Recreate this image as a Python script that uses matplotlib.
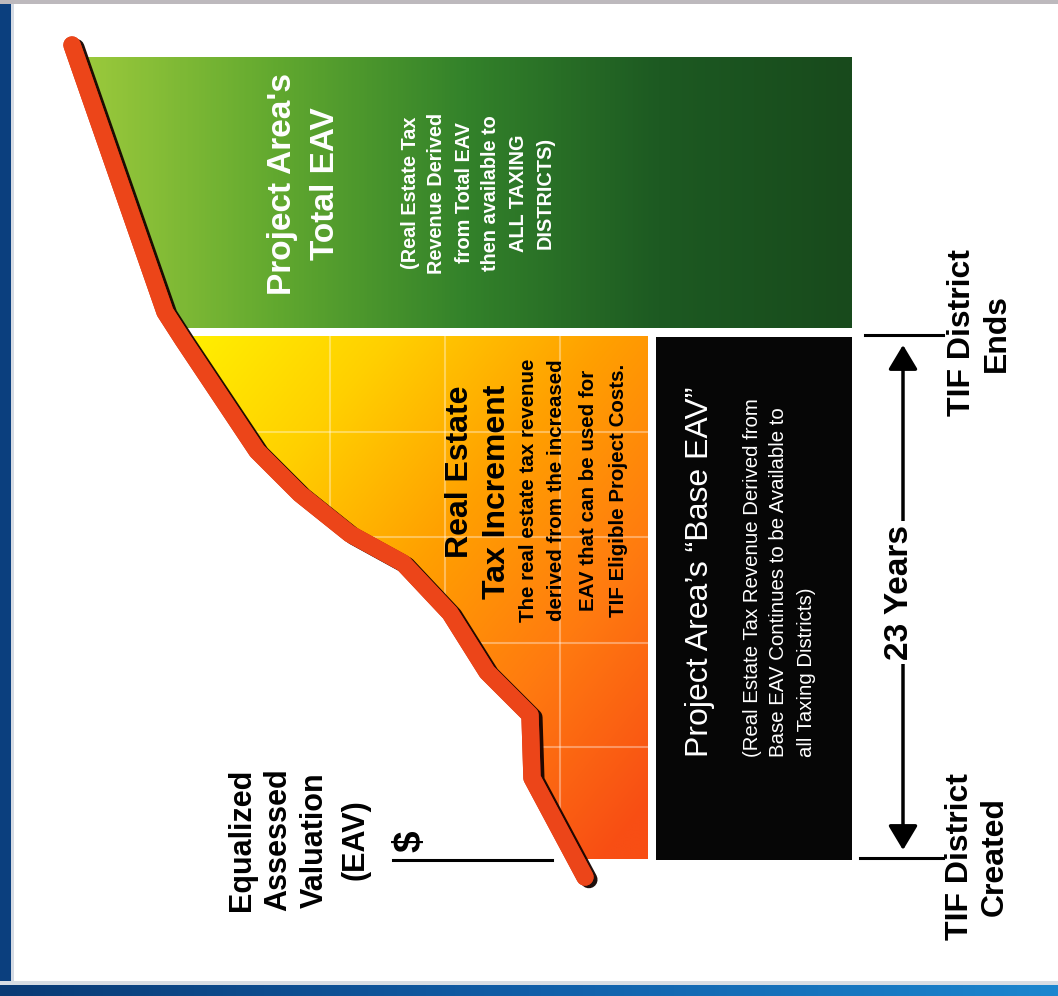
import numpy as np
import matplotlib
matplotlib.use("Agg")
import matplotlib.pyplot as plt
from matplotlib.colors import LinearSegmentedColormap
from matplotlib.patches import Polygon, Rectangle, FancyArrowPatch
import matplotlib.patheffects as pe
from matplotlib import font_manager

# ---------------- data ----------------
# Equalized assessed valuation of the project area over time
years = [-0.84, 3.52, 6.29, 8.18, 10.77, 12.97, 14.25, 16.01, 17.90, 20.54, 22.78, 24.01, 35.75]
eav = [133.5, 160.0, 161.0, 182.5, 201.0, 224.5, 251.0, 276.0, 297.5, 317.5, 334.5, 343.5, 390.0]
base_eav = 100.0          # frozen "Base EAV"
tif_years = 23            # life of the TIF district

eav_label = ["Equalized", "Assessed", "Valuation", "(EAV)"]
total_title = ["Project Area's", "Total EAV"]
total_sub = ["(Real Estate Tax", "Revenue Derived", "from Total EAV", "then available to",
             "ALL TAXING", "DISTRICTS)"]
inc_title = ["Real Estate", "Tax Increment"]
inc_sub = ["The real estate tax revenue", "derived from the increased",
           "EAV that can be used for", "TIF Eligible Project Costs."]
base_title = "Project Area\u2019s \u201cBase EAV\u201d"
base_sub = ["(Real Estate Tax Revenue Derived from",
            "Base EAV Continues to be Available to",
            "all Taxing Districts)"]
ends_label = ["TIF District", "Ends"]
created_label = ["TIF District", "Created"]
span_label = "23 Years"

# ---------------- fonts ----------------
names = {f.name for f in font_manager.fontManager.ttflist}
FONT = "Liberation Sans" if "Liberation Sans" in names else "DejaVu Sans"
HAS_NARROW = "Liberation Sans Narrow" in names
NARROW = "Liberation Sans Narrow" if HAS_NARROW else FONT
nscale = 1.0 if HAS_NARROW else 0.82

W, H = 1058, 996
fig = plt.figure(figsize=(W / 100, H / 100), dpi=100)
fig.patch.set_facecolor("white")

# data axes: x = EAV (grows to the left), y = years
ax = fig.add_axes([0, 0, 1, 1])
XL = (426.0, -103.0)
YL = (-6.069, 37.73)
ax.set_axis_off()
ax.set_zorder(1)

# overlay axes in pixel coordinates for labels & frame
ov = fig.add_axes([0, 0, 1, 1])
ov.set_axis_off()
ov.set_zorder(2)

# ---------------- fills ----------------
clip_verts = list(zip(eav, years)) + [(-60, years[-1]), (-60, years[0])]

def clip_patch():
    return Polygon(clip_verts, closed=True, transform=ax.transData, facecolor="none", edgecolor="none")

gap = 2.2
top_inc = tif_years - 0.09
bot_green = tif_years + 0.31

# green gradient (total EAV)
g_cmap = LinearSegmentedColormap.from_list("g", ["#9cca3c", "#62a92f", "#33822a", "#1d5a22", "#184a1c"])
E = np.linspace(max(eav), 0, 400)
Y = np.linspace(bot_green, 35.2, 50)
EE, YY = np.meshgrid(E, Y)
px = 852 - 2 * EE
tg = np.clip((px - 80) / (852 - 80), 0, 1)
img = ax.imshow(tg, cmap=g_cmap, extent=(max(eav), 0, bot_green, 35.2), origin="lower",
                aspect="auto", interpolation="bilinear", zorder=1)
img.set_clip_path(clip_patch())

# orange gradient (tax increment)
o_cmap = LinearSegmentedColormap.from_list("o", ["#fff200", "#ffd000", "#ffa000", "#ff7a10", "#f84e14"])
E2 = np.linspace(max(eav), base_eav + gap, 400)
Y2 = np.linspace(-0.05, top_inc, 300)
EE2, YY2 = np.meshgrid(E2, Y2)
px2 = 852 - 2 * EE2
py2 = 858 - 22.74 * YY2
to = np.clip(0.55 * (px2 - 170) / 480 + 0.5 * (py2 - 337) / 520, 0, 1)
img2 = ax.imshow(to, cmap=o_cmap, extent=(max(eav), base_eav + gap, -0.05, top_inc), origin="lower",
                 aspect="auto", interpolation="bilinear", zorder=1)
img2.set_clip_path(clip_patch())

# faint grid in the increment area
for gx in [146, 203.5, 261]:
    l, = ax.plot([gx, gx], [-0.05, top_inc], color="white", alpha=0.35, lw=1.5, zorder=2)
    l.set_clip_path(clip_patch())
for gy in [4.88, 9.45, 14.12, 18.73]:
    l, = ax.plot([max(eav), base_eav + gap], [gy, gy], color="white", alpha=0.35, lw=1.5, zorder=2)
    l.set_clip_path(clip_patch())

# base EAV box
ax.add_patch(Rectangle((0, -0.09), base_eav - gap, top_inc + 0.09, facecolor="#060606",
                       edgecolor="none", zorder=2))

# value axis baseline
ax.plot([229.5, 150], [-0.09, -0.09], color="black", lw=2.2, zorder=3)

# EAV curve
ax.plot(eav, years, color="#ec4519", lw=12.5, solid_capstyle="round", solid_joinstyle="round",
        zorder=5, path_effects=[pe.SimpleLineShadow(offset=(2.8, -1.8), shadow_color="#140300", alpha=0.95),
                                pe.Stroke(linewidth=12.5, foreground="#d0300f"),
                                pe.Normal()])

# timeline ticks and arrow
ax.plot([-4, -45.5], [0, 0], color="black", lw=2.2, zorder=3)
ax.plot([-6.5, -45.5], [tif_years, tif_years], color="black", lw=2.2, zorder=3)
arr = FancyArrowPatch((-25.5, 0.35), (-25.5, tif_years - 0.44),
                      arrowstyle="<|-|>,head_length=0.75,head_width=0.45", mutation_scale=20,
                      color="black", lw=2.5, shrinkA=0, shrinkB=0, zorder=3)
ax.add_patch(arr)

ax.set_xlim(*XL)
ax.set_ylim(*YL)

# ---------------- frame ----------------
ov.add_patch(Rectangle((0, 0), 11, H, facecolor="#0b3f7e", edgecolor="none"))
ov.add_patch(Rectangle((11, 0), 3, H, facecolor="#d4dae3", edgecolor="none"))
ov.add_patch(Rectangle((0, 0), W, 4, facecolor="#bdb9bd", edgecolor="none"))
ov.add_patch(Rectangle((0, 981), W, 4, facecolor="#d8dde4", edgecolor="none"))
b_cmap = LinearSegmentedColormap.from_list("b", ["#0a3a74", "#115ea8", "#1c86cf"])
ov.imshow(np.linspace(0, 1, 256)[None, :], cmap=b_cmap, extent=(0, W, H, 985), aspect="auto", zorder=1)
ov.set_xlim(0, W)
ov.set_ylim(H, 0)

# ---------------- labels ----------------
def lines(xs, y, texts, **kw):
    for x, t in zip(xs, texts):
        ov.text(x, y, t, rotation=90, rotation_mode="anchor", va="center", **kw)

lines([242, 278, 315, 355], 840, eav_label, ha="center", fontsize=22, fontweight="bold",
      family=FONT, color="black")
ov.text(410, 841, "$", rotation=90, rotation_mode="anchor", ha="center", va="center",
        fontsize=28, fontweight="bold", family=FONT, color="black")

lines([283, 326], 184, total_title, ha="center", fontsize=24, fontweight="bold", family=FONT, color="white")
lines([410, 437, 464, 491, 518, 545], 193, total_sub, ha="center", fontsize=17.5 * nscale,
      fontweight="bold", family=NARROW, color="white")

lines([460, 497], 385, inc_title, ha="right", fontsize=23, fontweight="bold", family=FONT, color="black")
lines([528, 557, 588, 618], 490, inc_sub, ha="center", fontsize=18 * nscale, fontweight="bold",
      family=NARROW, color="black")

lines([700], 757, [base_title], ha="left", fontsize=23, family=FONT, color="white")
lines([752, 778, 806], 757, base_sub, ha="left", fontsize=14.7, family=FONT, color="white")

ov.text(900, 592, span_label, rotation=90, rotation_mode="anchor", ha="center", va="center",
        fontsize=24, fontweight="bold", family=FONT, color="black",
        bbox=dict(facecolor="white", edgecolor="none", pad=3), zorder=5)

lines([962, 997], 333, ends_label, ha="center", fontsize=23, fontweight="bold", family=FONT, color="black")
lines([960, 995], 857, created_label, ha="center", fontsize=23, fontweight="bold", family=FONT, color="black")

fig.savefig("out.png", dpi=100, facecolor="white")
